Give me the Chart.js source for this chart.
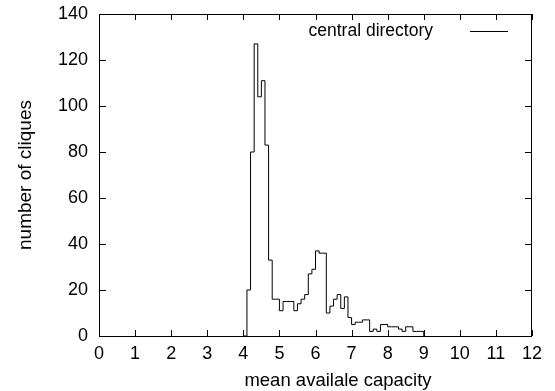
<!DOCTYPE html>
<html>
<head>
<meta charset="utf-8">
<script src="https://cdn.jsdelivr.net/npm/chart.js@4.4.0/dist/chart.umd.min.js"></script>
<style>
  html, body { margin: 0; padding: 0; background: #fff; }
  #wrap { width: 555px; height: 391px; }
</style>
</head>
<body>
<div id="wrap"><canvas id="chart"></canvas></div>
<script>
  // left edge of each bin (width 0.1) and the count in it
  const binStarts = [4.0, 4.1, 4.2, 4.3, 4.4, 4.5, 4.6, 4.7, 4.8, 4.9,
                     5.0, 5.1, 5.2, 5.3, 5.4, 5.5, 5.6, 5.7, 5.8, 5.9,
                     6.0, 6.1, 6.2, 6.3, 6.4, 6.5, 6.6, 6.7, 6.8, 6.9,
                     7.0, 7.1, 7.2, 7.3, 7.4, 7.5, 7.6, 7.7, 7.8, 7.9,
                     8.0, 8.1, 8.2, 8.3, 8.4, 8.5, 8.6, 8.7, 8.8, 8.9,
                     9.0];
  const cliqueCounts = [0, 20, 80, 127, 104, 111, 83, 33, 16, 16,
                        11, 15, 15, 15, 11, 14, 16, 18, 27, 29,
                        37, 36, 36, 10, 13, 16, 18, 12, 17, 8,
                        5, 6, 6, 7, 7, 2, 3, 2, 5, 5,
                        4, 4, 4, 3, 2, 4, 4, 2, 2, 2,
                        0];
  const xTicks = [0, 1, 2, 3, 4, 5, 6, 7, 8, 9, 10, 11, 12];
  const yTicks = [0, 20, 40, 60, 80, 100, 120, 140];

  const seriesLabel = 'central directory';
  const xTitle = 'mean availale capacity';
  const yTitle = 'number of cliques';

  const FONT = 'Liberation Sans, Arial, Helvetica, sans-serif';

  Chart.defaults.color = '#000';
  Chart.defaults.font.family = FONT;
  Chart.defaults.font.size = 18;

  // gnuplot-like frame: box, inward ticks on all sides, key inside top right
  const gnuplotFrame = {
    id: 'gnuplotFrame',
    afterDatasetsDraw(chart) {
      const { ctx, chartArea: a, scales: { x, y } } = chart;
      ctx.save();
      ctx.strokeStyle = '#000';
      ctx.lineWidth = 1;
      ctx.beginPath();
      x.ticks.forEach(t => {
        const px = Math.round(x.getPixelForValue(t.value)) + 0.5;
        ctx.moveTo(px, a.bottom); ctx.lineTo(px, a.bottom - 6);
        ctx.moveTo(px, a.top); ctx.lineTo(px, a.top + 6);
      });
      y.ticks.forEach(t => {
        const py = Math.round(y.getPixelForValue(t.value)) + 0.5;
        ctx.moveTo(a.left, py); ctx.lineTo(a.left + 7, py);
        ctx.moveTo(a.right, py); ctx.lineTo(a.right - 7, py);
      });
      ctx.stroke();
      ctx.strokeRect(a.left + 0.5, a.top + 0.5, a.right - a.left - 1, a.bottom - a.top);

      // key
      const ds = chart.data.datasets[0];
      ctx.font = '17.5px ' + FONT;
      ctx.fillStyle = '#000';
      ctx.textAlign = 'right';
      ctx.textBaseline = 'middle';
      ctx.fillText(ds.label, a.right - 99, a.top + 17);
      ctx.beginPath();
      ctx.moveTo(a.right - 62, a.top + 17.5);
      ctx.lineTo(a.right - 24, a.top + 17.5);
      ctx.strokeStyle = ds.borderColor;
      ctx.stroke();

      // x label sits a little right of the plot centre in the original
      ctx.font = '18.5px ' + FONT;
      ctx.textAlign = 'center';
      ctx.textBaseline = 'alphabetic';
      ctx.fillText(xTitle, a.left + 239, chart.height - 5);
      ctx.restore();
    }
  };

  const ctx = document.getElementById('chart').getContext('2d');
  new Chart(ctx, {
    type: 'line',
    data: {
      datasets: [{
        label: seriesLabel,
        data: binStarts.map((x, i) => ({ x: x, y: cliqueCounts[i] })),
        borderColor: '#000',
        borderWidth: 1,
        pointRadius: 0,
        stepped: 'before',
        fill: false
      }]
    },
    options: {
      responsive: true,
      maintainAspectRatio: false,
      animation: false,
      layout: { padding: { top: 14, right: 23, left: 0, bottom: 0 } },
      plugins: {
        legend: { display: false },
        tooltip: { enabled: false }
      },
      scales: {
        x: {
          type: 'linear',
          min: 0,
          max: 12,
          afterBuildTicks: s => { s.ticks = xTicks.map(v => ({ value: v })); },
          afterFit: s => { s.height = 55; s.paddingLeft = 0; s.paddingRight = 0; },
          grid: { display: false, drawTicks: false },
          border: { display: false },
          ticks: { padding: 7, maxRotation: 0 },
          title: { display: false }
        },
        y: {
          type: 'linear',
          min: 0,
          max: 140,
          afterBuildTicks: s => { s.ticks = yTicks.map(v => ({ value: v })); },
          afterFit: s => { s.width = 99; s.paddingTop = 0; s.paddingBottom = 0; },
          grid: { display: false, drawTicks: false },
          border: { display: false },
          ticks: { padding: 11 },
          title: { display: true, text: yTitle, font: { size: 19 }, padding: { top: 14, bottom: 0 } }
        }
      }
    },
    plugins: [gnuplotFrame]
  });
</script>
</body>
</html>
